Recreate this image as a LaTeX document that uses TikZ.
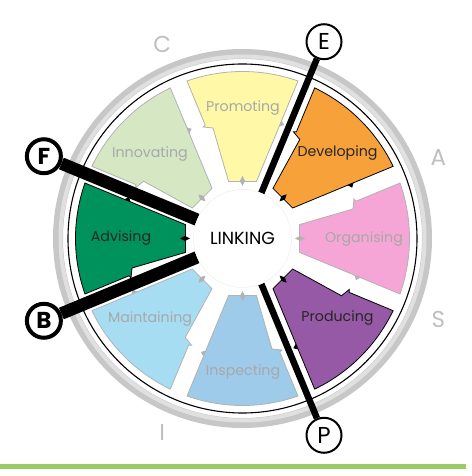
\documentclass[tikz,border=0pt]{standalone}
\usepackage{fontspec}
\setmainfont{Poppins}
\usepackage{xcolor}
\usepackage{tikz}
\usetikzlibrary{backgrounds}

\definecolor{promofill}{RGB}{255,248,166}
\definecolor{develfill}{RGB}{247,161,58}
\definecolor{organfill}{RGB}{245,166,214}
\definecolor{produfill}{RGB}{150,89,166}
\definecolor{inspefill}{RGB}{158,203,234}
\definecolor{maintfill}{RGB}{166,221,243}
\definecolor{advisfill}{RGB}{0,146,93}
\definecolor{innovfill}{RGB}{213,232,195}
\definecolor{rulegreen}{RGB}{153,204,102}

\begin{document}
\begin{tikzpicture}[
        x=1pt, y=1pt,
        hub/.style={circle, draw=black!8, fill=white, minimum size=98, inner sep=0, font=\fontsize{17.5}{18}\selectfont},
        seglabel/.style={font=\fontsize{14.2}{15}\selectfont, text=black!34},
        keylabel/.style={font=\fontsize{14.2}{15}\selectfont, text=black!85},
        tag/.style={circle, draw, line width=2, fill=white, minimum size=35, inner sep=0, font=\fontsize{23}{23}\selectfont},
        boldtag/.style={tag, line width=4, minimum size=34, font=\fontsize{23}{23}\selectfont\bfseries},
        side/.style={font=\fontsize{23}{23}\selectfont, text=black!25},
        spoke/.style={line width=6.5},
        fatspoke/.style={line width=12.5},
        pics/wedge/.style 2 args={code={
            \filldraw[fill=#1, draw=#2, line width=0.8]
                (57,-13.9) -- (-19.4:167) arc[start angle=-19.4, end angle=19.4, radius=167]
                -- (113.5,37.3) -- (111.5,39.5) -- (110.5,29.5) -- (57,13.9) -- cycle;
            \fill[#2] (112,-36.65) -- (118,-39.1) -- (113.5,-41.6) -- cycle;
            \fill[#2] (52.5,0) -- (57.5,2.5) -- (62.5,0) -- (57.5,-2.5) -- cycle;
        }}
    ]
    \useasboundingbox (-242.5,-237.5) rectangle (228.5,238.5);

    % Nodes
    \node[hub] (linking) at (0,0) {LINKING};
    \node[seglabel] (promoting) at (0.5,130) {Promoting};
    \node[keylabel] (developing) at (95,85) {Developing};
    \node[seglabel] (organising) at (121.5,-1) {Organising};
    \node[keylabel] (producing) at (95,-80) {Producing};
    \node[seglabel] (inspecting) at (0.5,-133.5) {Inspecting};
    \node[seglabel] (maintaining) at (-92.5,-81) {Maintaining};
    \node[keylabel] (advising) at (-121.5,0) {Advising};
    \node[seglabel] (innovating) at (-92.5,84.5) {Innovating};

    \node[tag] (e) at (67.5:213) {E};
    \node[tag] (p) at (-67.5:213) {P};
    \node[boldtag] (f) at (157.5:215) {F};
    \node[boldtag] (b) at (202.5:215) {B};

    \node[side] (c) at (112.5:210) {C};
    \node[side] (a) at (22.5:212) {A};
    \node[side] (s) at (-22.5:212) {S};
    \node[side] (i) at (-112.5:210) {I};

    \begin{scope}[on background layer]
        % Wheel
        \fill[black!22, even odd rule] (0,0) circle (189.5) circle (179.5);
        \draw[black!12, line width=4] (0,0) circle (182);
        \draw[line width=1.1] (0,0) circle (174.5);

        \pic[rotate=90] {wedge={promofill}{black!30}};
        \pic[rotate=45] {wedge={develfill}{black}};
        \pic[rotate=0] {wedge={organfill}{black!30}};
        \pic[rotate=-45] {wedge={produfill}{black}};
        \pic[rotate=-90] {wedge={inspefill}{black!30}};
        \pic[rotate=-135] {wedge={maintfill}{black!30}};
        \pic[rotate=180] {wedge={advisfill}{black}};
        \pic[rotate=135] {wedge={innovfill}{black!30}};

        % Edges
        \draw[spoke] (linking) -- (e);
        \draw[spoke] (linking) -- (p);
        \draw[fatspoke] (linking) -- (f);
        \draw[fatspoke] (linking) -- (b);

        \fill[rulegreen] (-242.5,-225.5) rectangle (223.5,-230.5);
    \end{scope}
\end{tikzpicture}
\end{document}
